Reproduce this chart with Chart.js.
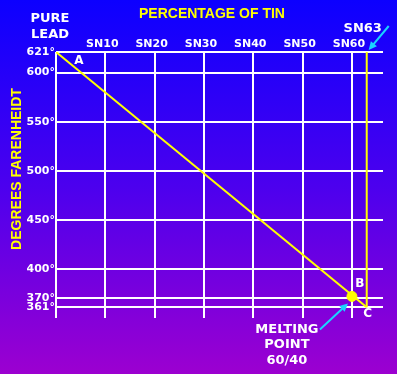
<!DOCTYPE html>
<html>
<head>
<meta charset="utf-8">
<script src="https://cdn.jsdelivr.net/npm/chart.js@4"></script>
<style>
  html, body { margin: 0; padding: 0; background: #4a00ee; }
  canvas { display: block; }
</style>
</head>
<body>
<canvas id="chart" width="397" height="374"></canvas>
<script>
// tin percentage vs temperature (solder cooling line)
const tinPct      = [0, 63];
const tempF       = [621, 361];
const sn63Pct     = [63, 63];
const sn63Temp    = [621, 361];
const meltPct     = [60];
const meltTemp    = [372];

const xGridValues = [0, 10, 20, 30, 40, 50, 60];
const xTickLabels = ['', 'SN10', 'SN20', 'SN30', 'SN40', 'SN50', 'SN60'];
const yGridValues = [621, 600, 550, 500, 450, 400, 370, 361];

const WHITE  = '#ffffff';
const YELLOW = '#ffff00';
const CYAN   = '#19d4ff';
const FONT   = '"DejaVu Sans", sans-serif';

const toPts = (xs, ys) => xs.map((x, i) => ({ x, y: ys[i] }));

function arrow(ctx, x1, y1, x2, y2) {
  const ang = Math.atan2(y2 - y1, x2 - x1);
  const head = 9;
  ctx.save();
  ctx.strokeStyle = CYAN; ctx.fillStyle = CYAN; ctx.lineWidth = 2;
  ctx.beginPath();
  ctx.moveTo(x1, y1);
  ctx.lineTo(x2 - Math.cos(ang) * head * 0.7, y2 - Math.sin(ang) * head * 0.7);
  ctx.stroke();
  ctx.beginPath();
  ctx.moveTo(x2, y2);
  ctx.lineTo(x2 - head * Math.cos(ang - 0.45), y2 - head * Math.sin(ang - 0.45));
  ctx.lineTo(x2 - head * Math.cos(ang + 0.45), y2 - head * Math.sin(ang + 0.45));
  ctx.closePath();
  ctx.fill();
  ctx.restore();
}

const backdrop = {
  id: 'backdrop',
  beforeDraw(chart) {
    const { ctx, width, height } = chart;
    const g = ctx.createLinearGradient(0, 0, 0, height);
    g.addColorStop(0, '#0c00ff');
    g.addColorStop(0.5, '#4c00ee');
    g.addColorStop(1, '#9c00d0');
    ctx.save();
    ctx.fillStyle = g;
    ctx.fillRect(0, 0, width, height);
    ctx.restore();
  }
};

const labels = {
  id: 'labels',
  afterDraw(chart) {
    const { ctx, chartArea: area } = chart;
    const xs = chart.scales.x, ys = chart.scales.y;
    ctx.save();

    // y tick labels
    ctx.fillStyle = WHITE;
    ctx.font = 'bold 11px ' + FONT;
    ctx.textAlign = 'right';
    ctx.textBaseline = 'middle';
    yGridValues.forEach(v => {
      ctx.fillText(v + '°', area.left - 1, ys.getPixelForValue(v));
    });

    // x tick labels along the top
    ctx.textAlign = 'center';
    xGridValues.forEach((v, i) => {
      if (xTickLabels[i]) ctx.fillText(xTickLabels[i], xs.getPixelForValue(v) - 3, area.top - 8);
    });

    // titles
    ctx.fillStyle = YELLOW;
    ctx.font = 'bold 14px "Liberation Sans", sans-serif';
    ctx.fillText('PERCENTAGE OF TIN', 212, 14);

    ctx.save();
    ctx.translate(17, 169);
    ctx.rotate(-Math.PI / 2);
    ctx.font = 'bold 14px "Liberation Sans", sans-serif';
    ctx.fillText('DEGREES FARENHEIDT', 0, 0);
    ctx.restore();

    ctx.fillStyle = WHITE;
    ctx.font = 'bold 13px ' + FONT;
    ctx.fillText('PURE', area.left - 6, 19);
    ctx.fillText('LEAD', area.left - 6, 35);

    const sx = xs.getPixelForValue(sn63Pct[0]);
    ctx.fillText('SN63', sx - 4, 29);
    arrow(ctx, sx + 22, area.top - 26, sx + 2, area.top - 2);

    // point letters
    const ax = xs.getPixelForValue(tinPct[0]), ay = ys.getPixelForValue(tempF[0]);
    ctx.font = 'bold 12px ' + FONT;
    ctx.fillText('A', ax + 23, ay + 9);

    const bx = xs.getPixelForValue(meltPct[0]), by = ys.getPixelForValue(meltTemp[0]);
    ctx.fillText('B', bx + 8, by - 13);

    const cx = xs.getPixelForValue(sn63Pct[1]), cy = ys.getPixelForValue(sn63Temp[1]);
    ctx.fillText('C', cx + 1, cy + 7);

    ctx.font = 'bold 13px ' + FONT;
    ctx.fillText('MELTING', bx - 65, by + 33);
    ctx.fillText('POINT', bx - 65, by + 48);
    ctx.fillText('60/40', bx - 65, by + 64);
    arrow(ctx, bx - 32, by + 33, bx - 4, by + 7);

    ctx.restore();
  }
};

new Chart(document.getElementById('chart'), {
  type: 'scatter',
  data: {
    datasets: [
      { data: toPts(tinPct, tempF), showLine: true, borderColor: YELLOW, borderWidth: 2, pointRadius: 0 },
      { data: toPts(sn63Pct, sn63Temp), showLine: true, borderColor: YELLOW, borderWidth: 2, pointRadius: 0 },
      { data: toPts(meltPct, meltTemp), pointRadius: 5, backgroundColor: YELLOW, borderColor: YELLOW, pointHoverRadius: 5 }
    ]
  },
  options: {
    responsive: false,
    animation: false,
    devicePixelRatio: 1,
    layout: { padding: { left: 56, right: 14, top: 52, bottom: 56 } },
    plugins: { legend: { display: false }, tooltip: { enabled: false } },
    scales: {
      x: {
        type: 'linear', min: 0, max: 66.3,
        afterBuildTicks: s => { s.ticks = xGridValues.map(v => ({ value: v })); },
        ticks: { display: false },
        grid: { color: WHITE, lineWidth: 2, drawTicks: false },
        border: { display: false }
      },
      y: {
        type: 'linear', min: 350, max: 621,
        afterBuildTicks: s => { s.ticks = yGridValues.map(v => ({ value: v })); },
        ticks: { display: false },
        grid: { color: WHITE, lineWidth: 2, drawTicks: false },
        border: { display: false }
      }
    }
  },
  plugins: [backdrop, labels]
});
</script>
</body>
</html>
